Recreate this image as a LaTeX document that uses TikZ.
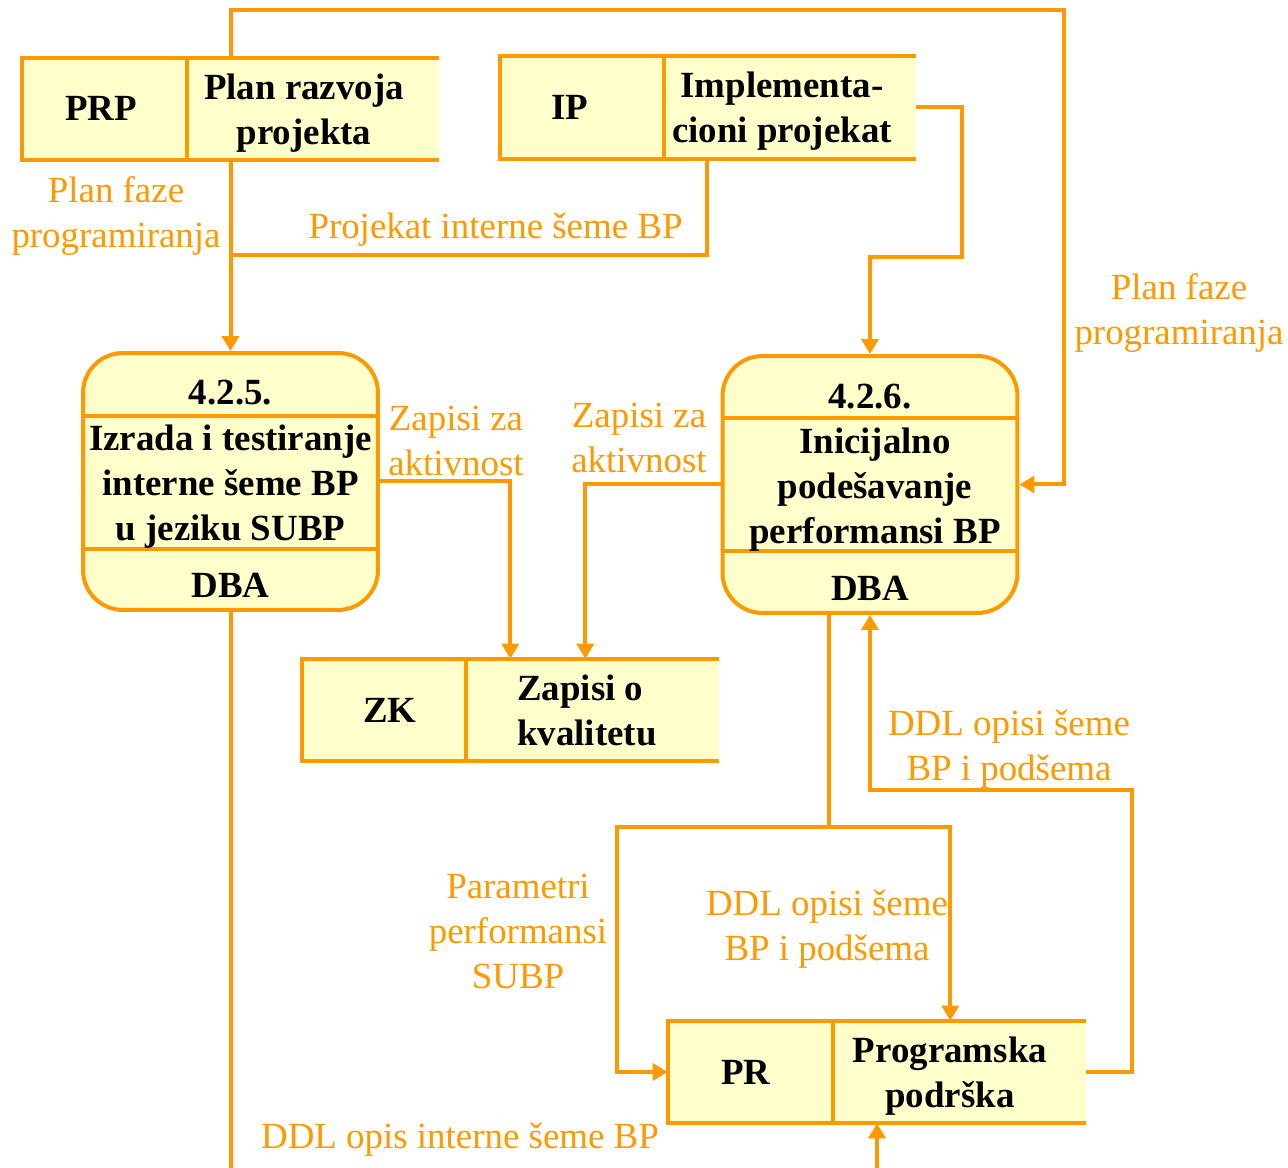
\documentclass[tikz,border=0pt]{standalone}
\usepackage{fontspec}
\setmainfont{Liberation Serif}
\usetikzlibrary{arrows.meta, positioning, calc}
\definecolor{dfdorange}{RGB}{255,153,0}
\definecolor{dfdfill}{RGB}{255,255,204}

\begin{document}
\begin{tikzpicture}[
	x=0.02cm, y=-0.02cm,
	font=\fontsize{21}{25.6}\selectfont,
	storeid/.style={
		fill=dfdfill,
		minimum width=3.3cm,
		minimum height=2.04cm,
		inner sep=0pt
	},
	storename/.style={
		fill=dfdfill,
		minimum width=5.04cm,
		minimum height=2.04cm,
		inner sep=0pt
	},
	proc/.style={
		draw=dfdorange,
		fill=dfdfill,
		line width=0.08cm,
		rounded corners=0.8cm,
		minimum width=5.9cm,
		minimum height=5.14cm
	},
	ptext/.style={align=center, inner sep=0pt, font=\fontsize{21}{25.6}\selectfont\bfseries},
	border/.style={draw=dfdorange, line width=0.08cm},
	lbl/.style={text=dfdorange, align=center, inner sep=0pt},
	wire/.style={draw=dfdorange, line width=0.08cm},
	flow/.style={wire, -{Triangle[length=0.3cm, width=0.34cm]}}
	]
	
	\useasboundingbox (0,0) rectangle (1288,1168);
	
	% -------------------------------
	% SKLADISTA
	% -------------------------------
	\node[storeid] (prpId) at (104.5,109) {};
	\node[storename, right=0pt of prpId, minimum width=5.02cm] (prpName) {};
	\draw[border] (prpName.north east) -- (prpId.north west) -- (prpId.south west) -- (prpName.south east);
	\draw[border] (prpId.north east) -- (prpId.south east);
	\node[ptext] (prpIdText) at (101,108) {PRP};
	\node[ptext] (prpText) at (304,113) {Plan razvoja\\projekta};
	
	\node[storeid, minimum width=3.28cm] (ipId) at (582,107.5) {};
	\node[storename, right=0pt of ipId, minimum width=5.02cm] (ipName) {};
	\draw[border] (ipName.north east) -- (ipId.north west) -- (ipId.south west) -- (ipName.south east);
	\draw[border] (ipId.north east) -- (ipId.south east);
	\node[ptext] (ipIdText) at (570,107) {IP};
	\node[ptext] (ipText) at (782,111.5) {Implementa-\\cioni projekat};
	
	\node[storeid, minimum width=3.28cm] (zkId) at (384,710) {};
	\node[storename, right=0pt of zkId] (zkName) {};
	\draw[border] (zkName.north east) -- (zkId.north west) -- (zkId.south west) -- (zkName.south east);
	\draw[border] (zkId.north east) -- (zkId.south east);
	\node[ptext] (zkIdText) at (390,710) {ZK};
	\node[ptext, align=left] (zkText) at (587,710) {Zapisi o\\kvalitetu};
	
	\node[storeid] (prId) at (750.5,1072) {};
	\node[storename, right=0pt of prId] (prName) {};
	\draw[border] (prName.north east) -- (prId.north west) -- (prId.south west) -- (prName.south east);
	\draw[border] (prId.north east) -- (prId.south east);
	\node[ptext] (prIdText) at (746,1072) {PR};
	\node[ptext] (prText) at (950,1076) {Programska\\podrška};
	
	% -------------------------------
	% PROCESI
	% -------------------------------
	\node[proc] (p425) at (230.5,481.5) {};
	\draw[border] ($(p425.north west)+(0,65)$) -- ($(p425.north east)+(0,65)$);
	\draw[border] ($(p425.south west)+(0,-63)$) -- ($(p425.south east)+(0,-63)$);
	\node[ptext] (p425num) at ($(p425.north)+(0,42)$) {4.2.5.};
	\node[ptext] (p425title) at ($(p425.center)+(0,5)$) {Izrada i testiranje\\interne šeme BP\\u jeziku SUBP};
	\node[ptext] (p425role) at ($(p425.south)+(0,-27)$) {DBA};
	
	\node[proc] (p426) at (870,484.5) {};
	\draw[border] ($(p426.north west)+(0,64)$) -- ($(p426.north east)+(0,64)$);
	\draw[border] ($(p426.south west)+(0,-64)$) -- ($(p426.south east)+(0,-64)$);
	\node[ptext] (p426num) at ($(p426.north)+(0,43)$) {4.2.6.};
	\node[ptext] (p426title) at ($(p426.center)+(5,5)$) {Inicijalno\\podešavanje\\performansi BP};
	\node[ptext] (p426role) at ($(p426.south)+(0,-27)$) {DBA};
	
	% -------------------------------
	% TOKOVI
	% -------------------------------
	\coordinate (topR) at (1064,10);
	\coordinate (join1) at (230.5,255);
	\coordinate (bendIP) at (962,257);
	\coordinate (split) at (829,827);
	\coordinate (bendPar) at (617,827);
	\coordinate (bendDDL) at (1132,790);
	\coordinate (offA) at (230.5,1175);
	\coordinate (offB) at (877,1175);
	
	\draw[flow] (p425.north |- prpName.north) -- (p425.north |- topR) -- (topR) |- (p426.east);
	\draw[flow] (p425.north |- prpName.south) -- (p425.north);
	\draw[wire] ($(ipName.south west)+(43,0)$) |- (join1);
	\draw[flow] (ipName.east) -| (bendIP) -| (p426.north);
	
	\draw[flow] (p425.east) -| ($(zkName.north west)+(44,0)$);
	\draw[flow] (p426.west) -| ($(zkName.north west)+(119,0)$);
	
	\draw[wire] (p425.south) -- (offA);
	\draw[flow] (offB) -- (offB |- prName.south);
	
	\draw[wire] (split |- p426.south) -- (split);
	\draw[flow] (split) -- (bendPar) |- (prId.west);
	\draw[flow] (split) -| ($(prName.north west)+(117,0)$);
	\draw[flow] (prName.east) -| (bendDDL) -| (p426.south);
	
	% -------------------------------
	% OZNAKE
	% -------------------------------
	\node[lbl] (lblPlanA) at (116,216) {Plan faze\\programiranja};
	\node[lbl] (lblPlanB) at (1179,313) {Plan faze\\programiranja};
	\node[lbl] (lblProj) at (495.5,230) {Projekat interne šeme BP};
	\node[lbl] (lblZapA) at (456,441) {Zapisi za\\aktivnost};
	\node[lbl] (lblZapB) at (639,438) {Zapisi za\\aktivnost};
	\node[lbl] (lblDdlUp) at (1009,749) {DDL opisi šeme\\BP i podšema};
	\node[lbl] (lblPar) at (518,931) {Parametri\\performansi\\SUBP};
	\node[lbl] (lblDdlDown) at (827,929) {DDL opisi šeme\\BP i podšema};
	\node[lbl] (lblDdlInt) at (460,1140) {DDL opis interne šeme BP};
	
\end{tikzpicture}
\end{document}
